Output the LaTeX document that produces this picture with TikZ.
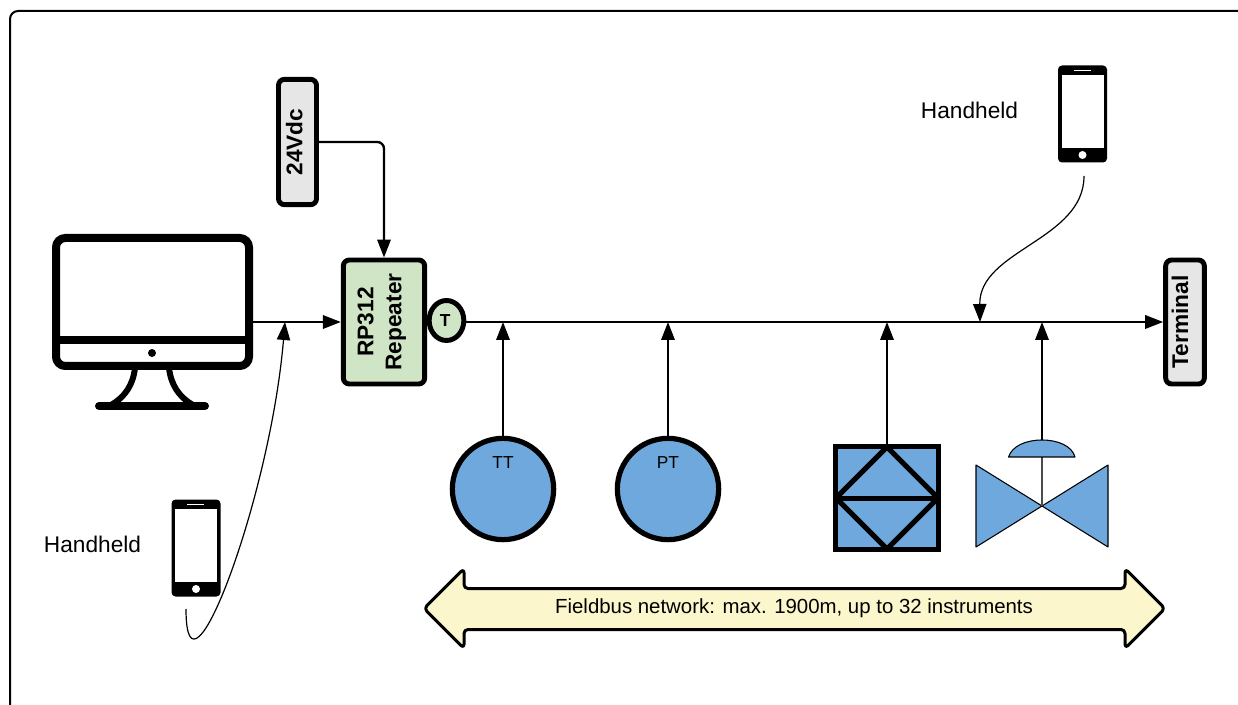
\documentclass[tikz,border=0pt]{standalone}
\usepackage{fontspec}
\setmainfont{Liberation Sans}
\usetikzlibrary{arrows.meta,shapes.geometric}
\definecolor{instblue}{RGB}{111,168,220}
\definecolor{boxgrey}{RGB}{230,230,230}
\definecolor{boxgreen}{RGB}{208,229,198}
\definecolor{netyellow}{RGB}{251,246,204}
\tikzset{
  wire/.style={line width=1.75pt,-{Triangle[length=13.5pt,width=10pt]}},
  thinwire/.style={line width=0.9pt,-{Triangle[length=13.5pt,width=10pt]}},
  blockbox/.style={draw,rounded corners=4.5pt,line width=3.7pt,font=\fontsize{17}{20}\selectfont\bfseries,inner sep=0pt},
  instbody/.style={draw,fill=instblue,line width=3.9pt,inner sep=0pt},
  valvepart/.style={draw,fill=instblue,line width=0.8pt,line join=round},
  handlabel/.style={font=\fontsize{17}{20}\selectfont},
  insttext/.style={font=\fontsize{13}{16}\selectfont},
  handset/.pic={
    \fill [rounded corners=3pt] (-24.5,-48.5) rectangle (24.5,48.5);
    \fill [white] (-21,39) rectangle (21,-34);
    \draw [white,line width=1pt] (-9,43.5) -- (8,43.5);
    \fill [white] (0,-41) circle (4);
  }
}
\begin{document}
\begin{tikzpicture}[x=0.75pt,y=0.75pt,yscale=-1,xscale=1]
\useasboundingbox (0,0) rectangle (1238,705);
% Outer frame
\draw [line width=1.5pt,rounded corners=6pt] (10,705) -- (10,11) -- (1238,11);

% Monitor
\draw [line width=6pt,rounded corners=7pt] (56,238) rectangle (249,366);
\draw [line width=6pt] (56,340) -- (249,340);
\fill (152,353) circle (4);
\draw [line width=4.5pt] (135,368) .. controls (133,385) and (125,397) .. (111,405);
\draw [line width=4.5pt] (169,368) .. controls (171,385) and (179,397) .. (193,405);
\draw [line width=6pt,line cap=round] (99,406) -- (205,406);
\coordinate (pcport) at (253,322);

% Blocks
\node (supply) [blockbox,fill=boxgrey,minimum width=28.5pt,minimum height=94pt] at (297.5,142) {\rotatebox{90}{24Vdc}\kern5pt};
\node (repeater) [blockbox,fill=boxgreen,minimum width=61pt,minimum height=93pt] at (384,322) {\rotatebox{90}{\begin{tabular}{@{}c@{}}RP312\\[1pt]Repeater\end{tabular}}\kern3pt};
\node (tnode) [ellipse,draw,fill=boxgreen,line width=3.7pt,minimum width=26pt,minimum height=30pt,inner sep=0pt,font=\fontsize{13}{15}\selectfont\bfseries] at (446.5,320.5) {\kern-2pt T};
\node (terminal) [blockbox,fill=boxgrey,minimum width=29pt,minimum height=93pt] at (1185,322) {\rotatebox{90}{Terminal}\kern7.5pt};

% Instruments
\node (tt) [circle,instbody,minimum size=76pt] at (503,489) {};
\node (pt) [circle,instbody,minimum size=76pt] at (668,489) {};
\node (ttlabel) [insttext] at (503,463) {TT};
\node (ptlabel) [insttext] at (668,463) {PT};
\node (flow) [rectangle,instbody,minimum size=77pt] at (887,498) {};
\draw [line width=3.75pt,line join=round] (887,447) -- (938,498) -- (887,549) -- (836,498) -- cycle;
\draw [line width=3.75pt] (833,498) -- (941,498);

% Valve
\draw [valvepart] (976,465) -- (1042,506) -- (976,547) -- cycle;
\draw [valvepart] (1108,465) -- (1042,506) -- (1108,547) -- cycle;
\draw [line width=0.8pt,black!70] (1042,506) -- (1042,457);
\draw [valvepart] (1008.5,457) .. controls (1012,446) and (1026,440) .. (1042,440) .. controls (1058,440) and (1072,446) .. (1075,457) -- cycle;
\coordinate (valvetop) at (1042,440);

% Handhelds
\pic at (196,548) {handset};
\pic at (1082.5,114) {handset};
\node (handleft) [handlabel] at (92.5,544) {Handheld};
\node (handright) [handlabel] at (969.5,110) {Handheld};

% Bus tap points
\coordinate (pctap) at (285,322);
\coordinate (tttap) at (503,322);
\coordinate (pttap) at (668,322);
\coordinate (flowtap) at (887,322);
\coordinate (handtap) at (980,322);
\coordinate (valvetap) at (1042,322);
\coordinate (handleftend) at (186,609);
\coordinate (handrightend) at (1084,176);

% Connectors
\draw [wire,rounded corners=5pt] (supply.east) -| (repeater.north);
\draw [wire] (pcport) -- (repeater.west |- pcport);
\draw [wire] (tnode.east |- terminal.west) -- (terminal.west);
\draw [wire] (tt.north) -- (tttap);
\draw [wire] (pt.north) -- (pttap);
\draw [wire] (flow.north) -- (flowtap);
\draw [wire] (valvetop) -- (valvetap);
\draw [thinwire] (handleftend) .. controls (186,720) and (270,500) .. (pctap);
\draw [thinwire] (handrightend) .. controls (1084,240) and (979,250) .. (handtap);

% Network span
\draw [fill=netyellow,line width=2.25pt,rounded corners=3pt,line join=round] (424,608.5) -- (464,568.5) -- (464,588.5) -- (1125,588.5) -- (1125,568.5) -- (1165,608.5) -- (1125,648.5) -- (1125,629.5) -- (464,629.5) -- (464,648.5) -- cycle;
\node (network) [font=\fontsize{15.3}{18}\selectfont] at (794,608) {Fieldbus network: max. 1900m, up to 32 instruments};
\end{tikzpicture}
\end{document}
